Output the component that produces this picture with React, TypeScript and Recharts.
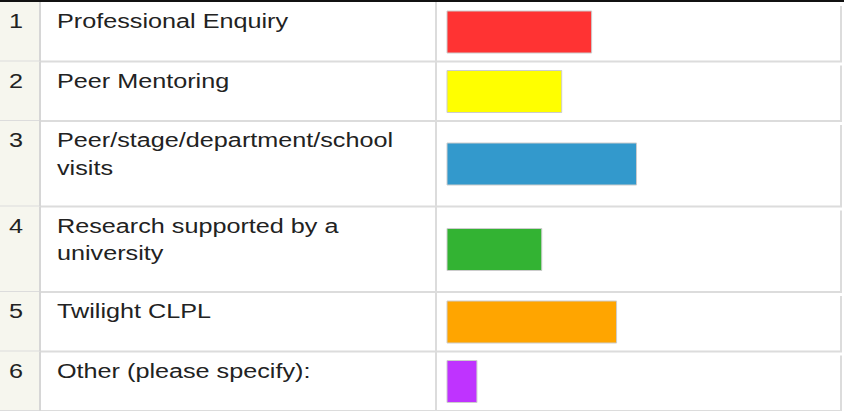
import { Bar, BarChart, Cell, XAxis, YAxis } from "recharts";

const numbers = ["1", "2", "3", "4", "5", "6"];
const labels = [
  "Professional Enquiry",
  "Peer Mentoring",
  "Peer/stage/department/school visits",
  "Research supported by a university",
  "Twilight CLPL",
  "Other (please specify):",
];
const values = [29, 23, 38, 19, 34, 6];
const colors = ["#ff3333", "#ffff00", "#3399cc", "#33b333", "#ffa500", "#bf33ff"];

const W = 846;
const H = 411;
const LABEL_W = 447;
const FONT = "'Liberation Sans', Arial, sans-serif";

// simple word wrap, ~28 chars per line
const wrap = (s: string, max = 28) => {
  const out: string[] = [];
  let cur = "";
  s.split(" ").forEach((w) => {
    const next = cur ? cur + " " + w : w;
    if (next.length > max && cur) {
      out.push(cur);
      cur = w;
    } else cur = next;
  });
  if (cur) out.push(cur);
  return out;
};

// row geometry follows the number of text lines (in vertical layout the y axis runs top -> bottom)
const rows = (() => {
  let top = 2;
  return labels.map((label, i) => {
    const lines = wrap(label);
    const h = 33.5 + 26 * lines.length;
    const r = { num: numbers[i], lines, value: values[i], top, bottom: top + h, mid: top + h / 2 };
    top += h;
    return r;
  });
})();

const RowTick = (props: any) => {
  const idx = rows.findIndex((r) => Math.abs(r.mid - props.payload.value) < 0.01);
  if (idx < 0) return null;
  const row = rows[idx];
  const h = row.bottom - row.top;
  return (
    <g>
      <rect x={0} y={row.top} width={40} height={h} fill="#f6f6ee" />
      <line x1={0} x2={842} y1={row.bottom} y2={row.bottom} stroke="#dcdcdc" strokeWidth={2} />
      <line x1={40} x2={40} y1={row.top} y2={row.bottom} stroke="#d6d6d6" strokeWidth={2} />
      <line x1={436} x2={436} y1={row.top} y2={row.bottom} stroke="#dcdcdc" strokeWidth={2} />
      <line x1={841} x2={841} y1={row.top + 4} y2={row.bottom} stroke="#dcdcdc" strokeWidth={2} />
      {idx === 0 && <line x1={0} x2={844} y1={1} y2={1} stroke="#111" strokeWidth={2} />}
      <text
        transform={`translate(9 ${row.top + 26}) scale(1.2 1)`}
        fontSize={21}
        fontFamily={FONT}
        fill="#222"
      >
        {row.num}
      </text>
      {row.lines.map((ln, j) => (
        <text
          key={j}
          transform={`translate(57 ${row.top + 26 + j * 27.5}) scale(1.2 1)`}
          fontSize={21}
          fontFamily={FONT}
          fill="#222"
        >
          {ln}
        </text>
      ))}
    </g>
  );
};

export default function App() {
  return (
    <div style={{ position: "absolute", left: 0, top: 0, width: W, height: H, background: "#fff" }}>
      <BarChart
        width={W}
        height={H}
        layout="vertical"
        data={rows}
        margin={{ top: 0, right: 0, bottom: 0, left: 0 }}
      >
        <XAxis type="number" dataKey="value" domain={[0, 80]} hide />
        <YAxis
          type="number"
          dataKey="mid"
          domain={[0, H]}
          allowDataOverflow
          ticks={rows.map((r) => r.mid)}
          interval={0}
          width={LABEL_W}
          axisLine={false}
          tickLine={false}
          tick={(p: any) => <RowTick {...p} />}
        />
        <Bar dataKey="value" barSize={42} stroke="#cccccc" strokeWidth={1} isAnimationActive={false}>
          {rows.map((r, i) => (
            <Cell key={r.num} fill={colors[i]} />
          ))}
        </Bar>
      </BarChart>
    </div>
  );
}
